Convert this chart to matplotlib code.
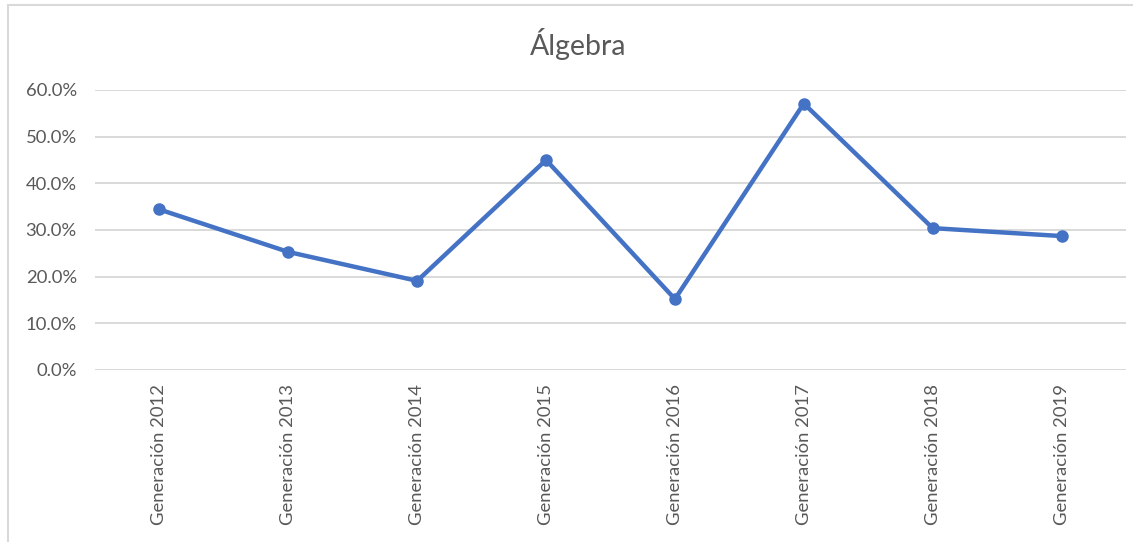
import matplotlib
matplotlib.use("Agg")
import matplotlib.pyplot as plt
from matplotlib.patches import Rectangle
from matplotlib.ticker import FuncFormatter, MultipleLocator

categories = ["Generación 2012", "Generación 2013", "Generación 2014", "Generación 2015",
              "Generación 2016", "Generación 2017", "Generación 2018", "Generación 2019"]
values = [34.4, 25.3, 19.1, 45.0, 15.2, 57.1, 30.4, 28.7]
title = "Álgebra"

plt.rcParams['font.family'] = ['Lato', 'DejaVu Sans']

W, H = 1133, 542
fig = plt.figure(figsize=(W / 100, H / 100), dpi=100)
ax = fig.add_axes([95 / W, 1 - 370 / H, (1126 - 95) / W, (370 - 90) / H])

x = list(range(len(categories)))
ax.plot(x, values, color="#4472C4", linewidth=3.2, marker="o", markersize=8,
        solid_capstyle="round", solid_joinstyle="round", zorder=3)

ax.set_xlim(-0.5, len(categories) - 0.5)
ax.set_ylim(0, 60)
ax.yaxis.set_major_locator(MultipleLocator(10))
ax.yaxis.set_major_formatter(FuncFormatter(lambda v, p: f"{v:.1f}%"))
ax.set_xticks(x)
ax.set_xticklabels(categories, rotation=90, va="top", ha="center")
ax.grid(axis="y", color="#D9D9D9", linewidth=1.4)
ax.set_axisbelow(True)
for s in ax.spines.values():
    s.set_visible(False)
ax.tick_params(axis="both", length=0, colors="#595959", labelsize=13.3)
ax.tick_params(axis="y", pad=13)
ax.tick_params(axis="x", pad=10)

fig.text(578 / W, 1 - 44 / H, title, ha="center", va="center", fontsize=20.5, color="#595959")

fig.patches.append(Rectangle((8 / W, -0.2), 1.5, 1.2 - 5 / H, transform=fig.transFigure,
                             fill=False, edgecolor="#D9D9D9", linewidth=1.5))

fig.savefig("out.png", dpi=100)
